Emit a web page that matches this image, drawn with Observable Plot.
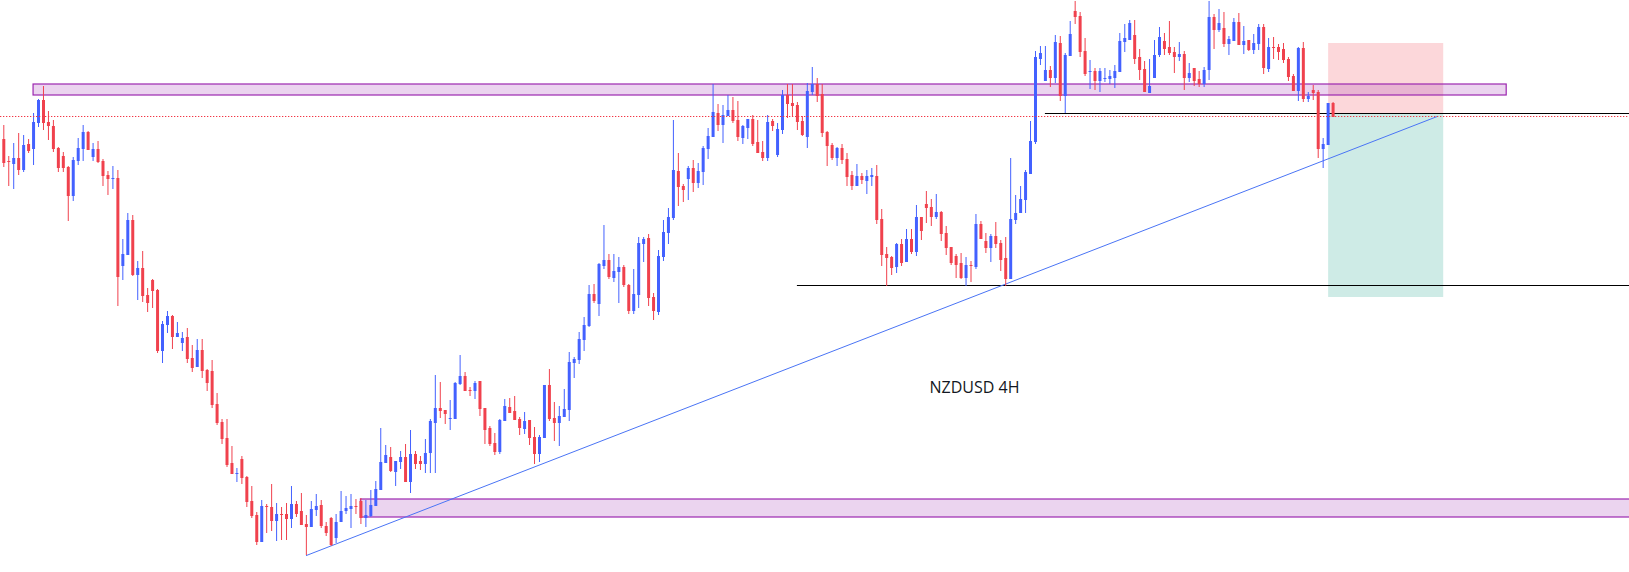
<!DOCTYPE html>
<html><head><meta charset="utf-8">
<script src="https://cdn.jsdelivr.net/npm/d3@7"></script>
<script src="https://cdn.jsdelivr.net/npm/@observablehq/plot@0.6"></script>
<style>body{margin:0;background:#fff}#chart svg{display:block}</style>
</head><body><div id="chart"></div>
<script>
// NZDUSD 4H candles, prices in pips (x 0.0001)
const open = [
6311,6289,6286,6292,6280,6306,6301,6327,6350,6328,
6324,6302,6294,6283,6254,6289,6301,6318,6293,6301,
6289,6275,6271,6272,6184,6195,6230,6175,6182,6155,
6170,6160,6099,6125,6134,6113,6107,6113,6092,6083,
6100,6080,6079,6046,6028,6012,5987,5976,5991,5973,
5949,5935,5908,5944,5943,5929,5936,5936,5931,5946,
5939,5926,5923,5940,5945,5924,5932,5912,5928,5939,
5941,5944,5949,5932,5934,5944,5960,5987,5993,5978,
5988,5993,5968,5996,5989,5986,5997,6027,6042,6040,
6031,6031,6066,6074,6060,6059,6069,6042,6022,6007,
5998,6029,6043,6039,6031,6021,6030,6013,5996,6012,
6065,6032,6027,6033,6040,6087,6090,6110,6124,6156,
6146,6184,6190,6172,6178,6183,6165,6139,6155,6206,
6212,6153,6138,6193,6217,6232,6279,6264,6271,6282,
6267,6278,6301,6313,6337,6325,6334,6340,6330,6312,
6322,6331,6308,6298,6292,6329,6295,6320,6355,6347,
6345,6329,6313,6358,6366,6356,6318,6305,6292,6302,
6291,6275,6264,6274,6269,6273,6274,6231,6196,6193,
6183,6206,6188,6211,6198,6233,6246,6243,6233,6238,
6217,6203,6194,6187,6172,6185,6183,6226,6209,6202,
6214,6207,6192,6171,6230,6237,6250,6276,6308,6391,
6369,6380,6372,6407,6354,6394,6439,6434,6399,6378,
6379,6369,6371,6371,6372,6378,6408,6410,6415,6393,
6381,6357,6372,6395,6409,6403,6398,6393,6396,6372,
6382,6371,6366,6380,6433,6420,6422,6406,6409,6428,
6405,6410,6400,6406,6423,6381,6403,6403,6401,6391,
6374,6359,6402,6351,6360,6358,6301,6305,6347];
const high = [
6325,6294,6307,6317,6315,6311,6337,6351,6364,6339,
6330,6303,6298,6284,6293,6312,6325,6319,6307,6309,
6291,6279,6284,6280,6211,6237,6235,6189,6199,6162,
6171,6161,6129,6139,6135,6128,6118,6122,6105,6111,
6111,6081,6090,6057,6031,6031,6004,5982,5994,5974,
5964,5938,5950,5946,5966,5947,5943,5947,5964,5949,
5957,5935,5949,5956,5950,5928,5933,5936,5959,5954,
5956,5951,5952,5950,5960,5969,6022,6005,6003,5989,
5999,6006,6020,5999,5994,6011,6031,6075,6068,6040,
6050,6068,6095,6078,6063,6069,6069,6042,6024,6017,
6031,6051,6052,6054,6033,6038,6030,6023,6015,6065,
6081,6048,6044,6061,6098,6093,6118,6133,6165,6166,
6187,6225,6196,6196,6193,6185,6166,6181,6213,6213,
6216,6157,6200,6230,6242,6330,6297,6266,6284,6290,
6287,6304,6322,6366,6346,6345,6355,6353,6349,6325,
6331,6335,6330,6309,6335,6331,6327,6360,6366,6366,
6348,6334,6367,6383,6372,6366,6319,6307,6303,6306,
6297,6279,6286,6277,6280,6282,6285,6241,6203,6194,
6207,6211,6221,6221,6245,6233,6259,6251,6256,6239,
6224,6203,6196,6197,6193,6189,6236,6229,6217,6216,
6228,6210,6213,6292,6255,6264,6280,6329,6399,6404,
6404,6384,6415,6414,6397,6429,6449,6438,6412,6390,
6382,6382,6382,6380,6385,6417,6426,6430,6430,6401,
6389,6391,6410,6423,6417,6429,6403,6408,6399,6387,
6382,6379,6383,6449,6436,6441,6438,6414,6432,6437,
6424,6410,6416,6426,6426,6412,6413,6406,6407,6393,
6376,6403,6408,6358,6365,6360,6312,6347,6348];
const low = [
6283,6264,6261,6275,6278,6297,6285,6323,6320,6310,
6298,6278,6278,6229,6249,6285,6289,6300,6289,6287,
6264,6255,6261,6144,6170,6195,6174,6150,6148,6138,
6142,6097,6087,6117,6101,6113,6099,6087,6078,6083,
6072,6059,6042,6025,6006,5983,5976,5968,5966,5943,
5932,5905,5908,5917,5919,5909,5910,5910,5922,5933,
5925,5895,5923,5934,5922,5914,5904,5907,5928,5936,
5922,5936,5926,5923,5933,5944,5960,5987,5978,5964,
5981,5968,5957,5981,5980,5977,5977,5977,6032,6026,
6020,6031,6065,6059,6054,6051,6034,6006,6004,5995,
5996,6029,6037,6030,6015,6016,6005,5986,5988,6012,
6029,6009,6004,6033,6029,6072,6086,6099,6123,6147,
6134,6181,6171,6168,6147,6163,6136,6136,6142,6188,
6144,6130,6135,6189,6206,6230,6244,6248,6250,6258,
6262,6265,6291,6313,6319,6307,6334,6327,6309,6306,
6311,6304,6297,6289,6289,6319,6293,6316,6332,6333,
6320,6314,6302,6355,6348,6313,6284,6290,6284,6286,
6264,6260,6264,6266,6256,6264,6226,6184,6164,6175,
6177,6184,6188,6196,6194,6210,6227,6224,6231,6209,
6195,6185,6172,6171,6164,6168,6181,6211,6197,6188,
6202,6179,6164,6171,6226,6237,6237,6276,6306,6385,
6369,6363,6367,6349,6337,6394,6426,6393,6374,6361,
6360,6358,6368,6366,6362,6378,6398,6410,6386,6370,
6358,6357,6372,6393,6395,6395,6377,6389,6360,6368,
6364,6363,6363,6370,6401,6418,6403,6395,6409,6405,
6396,6399,6396,6400,6376,6378,6391,6390,6387,6369,
6359,6349,6348,6348,6350,6292,6282,6305,6333];
const close = [
6287,6288,6292,6280,6305,6299,6328,6350,6327,6324,
6301,6282,6282,6254,6290,6302,6318,6300,6301,6288,
6274,6271,6272,6173,6196,6230,6175,6182,6154,6147,
6159,6099,6126,6134,6113,6117,6112,6091,6082,6100,
6079,6067,6045,6027,6011,5985,5976,5977,5972,5948,
5934,5908,5944,5943,5929,5936,5935,5931,5946,5936,
5925,5923,5941,5944,5924,5917,5905,5928,5939,5942,
5944,5943,5932,5935,5945,5961,5988,5995,5979,5989,
5993,5968,5996,5986,5986,5997,6029,6042,6039,6036,
6032,6067,6074,6059,6059,6067,6041,6020,6006,5998,
6030,6044,6037,6030,6022,6029,6012,5996,6013,6065,
6031,6027,6034,6041,6088,6091,6111,6125,6156,6149,
6186,6190,6173,6179,6183,6165,6139,6156,6207,6211,
6152,6139,6194,6218,6233,6280,6263,6260,6282,6267,
6279,6302,6314,6338,6325,6335,6340,6329,6313,6324,
6331,6306,6297,6292,6328,6324,6321,6355,6346,6344,
6328,6315,6359,6366,6354,6317,6304,6292,6302,6290,
6273,6264,6274,6270,6274,6275,6230,6195,6192,6182,
6206,6187,6211,6198,6233,6219,6242,6233,6238,6216,
6202,6187,6185,6172,6185,6184,6226,6211,6202,6214,
6206,6190,6171,6231,6237,6251,6278,6309,6393,6397,
6380,6372,6408,6354,6395,6416,6433,6398,6376,6379,
6369,6379,6372,6374,6379,6409,6412,6427,6391,6380,
6358,6364,6395,6413,6401,6397,6393,6396,6372,6377,
6369,6366,6380,6433,6420,6427,6406,6411,6428,6405,
6409,6400,6407,6423,6382,6403,6402,6398,6390,6373,
6359,6402,6351,6354,6357,6301,6306,6347,6333];

// Drawing annotations (bar index, price in pips)
const zones = [
  {x1: 6, x2: 303, top: 6366, bottom: 6355},
  {x1: 72, x2: 340, top: 5951, bottom: 5933}
];
const levels = [
  {x1: 210, x2: 340, price: 6337},
  {x1: 160, x2: 340, price: 6165}
];
const lastPrice = [6334];
const position = [{x1: 267.1, x2: 290.3, entry: 6336, stop: 6407, target: 6153}];
const trendline = [{bar: 61, price: 5895}, {bar: 289, price: 6334}];
const labels = [{bar: 195.7, price: 6062.5, text: "NZDUSD 4H"}];

const PIP = 0.0001;
const candles = open.map((o, i) => ({i, open: o * PIP, high: high[i] * PIP, low: low[i] * PIP, close: close[i] * PIP}));
const up = candles.filter(d => d.close >= d.open);
const down = candles.filter(d => d.close < d.open);
const BLUE = "#4361ff", RED = "#f0414d";
const P = k => d => d[k] * PIP;

const chart = Plot.plot({
  width: 1629, height: 572, margin: 0,
  x: {domain: [-0.665, 327.76], axis: null},
  y: {domain: [0.5878, 0.6450], axis: null},
  style: {background: "#fff", overflow: "hidden"},
  marks: [
    Plot.rect(position, {x1: "x1", x2: "x2", y1: P("entry"), y2: P("stop"), fill: "rgba(242,54,69,0.2)"}),
    Plot.rect(position, {x1: "x1", x2: "x2", y1: P("target"), y2: P("entry"), fill: "rgba(8,153,129,0.2)"}),
    Plot.rect(zones, {x1: "x1", x2: "x2", y1: P("bottom"), y2: P("top"), fill: "rgba(156,39,176,0.2)", stroke: "#9c27b0", strokeWidth: 1.2}),
    Plot.ruleY(levels, {y: P("price"), x1: "x1", x2: "x2", stroke: "#000", strokeWidth: 1.2}),
    Plot.line(trendline, {x: "bar", y: P("price"), stroke: "#4a74f5", strokeWidth: 1}),
    Plot.ruleX(up, {x: "i", y1: "low", y2: "high", stroke: BLUE, strokeWidth: 1}),
    Plot.ruleX(up, {x: "i", y1: "open", y2: "close", stroke: BLUE, strokeWidth: 3}),
    Plot.ruleX(down, {x: "i", y1: "low", y2: "high", stroke: RED, strokeWidth: 1}),
    Plot.ruleX(down, {x: "i", y1: "open", y2: "close", stroke: RED, strokeWidth: 3}),
    Plot.ruleY(lastPrice, {y: d => d * PIP, stroke: "#f23645", strokeWidth: 1.2, strokeDasharray: "1.3,1.7"}),
    Plot.text(labels, {x: "bar", y: P("price"), text: "text", fontSize: 16, fontFamily: "Open Sans", fill: "#131722"})
  ]
});
document.getElementById("chart").append(chart);
</script>
</body></html>
